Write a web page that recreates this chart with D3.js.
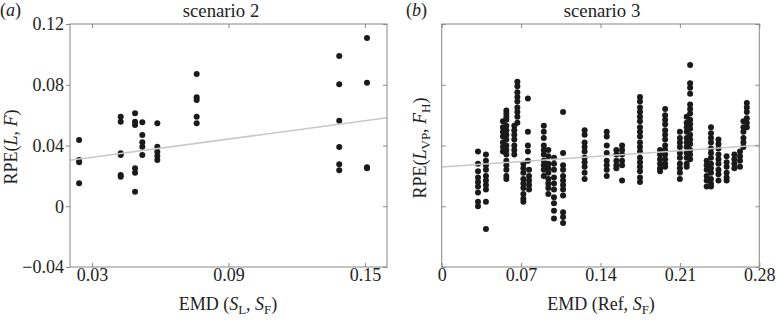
<!DOCTYPE html>
<html>
<head>
<meta charset="utf-8">
<script src="https://cdn.jsdelivr.net/npm/d3@7"></script>
<style>
  body { margin: 0; background: #fff; }
  svg text { font-family: "Liberation Serif", "DejaVu Serif", serif; fill: #222; }
</style>
</head>
<body>
<svg id="chart" width="777" height="320"></svg>
<script>
// scenario 2: one point per entry
const s2Emd = [
    0.0243, 0.0243, 0.0243, 0.0243,
    0.0426, 0.0426, 0.0426, 0.0426, 0.0426, 0.0426,
    0.0489, 0.0489, 0.0489, 0.0489, 0.0489, 0.0489,
    0.0521, 0.0521, 0.0521, 0.0521, 0.0521,
    0.0587, 0.0587, 0.0587, 0.0587, 0.0587,
    0.076, 0.076, 0.076, 0.076, 0.076,
    0.1387, 0.1387, 0.1387, 0.1387, 0.1387, 0.1387,
    0.1509, 0.1509, 0.1509, 0.1509
];
const s2Rpe = [
    0.0436, 0.0305, 0.029, 0.0151,
    0.059, 0.0557, 0.0349, 0.0338, 0.0206, 0.0195,
    0.0612, 0.0557, 0.0535, 0.025, 0.0221, 0.0096,
    0.0553, 0.0469, 0.0421, 0.0392, 0.0338,
    0.0546, 0.0392, 0.0359, 0.0331, 0.0305,
    0.0871, 0.0718, 0.070, 0.059, 0.0546,
    0.099, 0.0804, 0.0563, 0.039, 0.0277, 0.0237,
    0.1108, 0.0813, 0.0257, 0.025
];
const s2Fit = [[0.0203, 0.0303], [0.1597, 0.0582]];

// scenario 3: one column of points per EMD value
const s3Emd = [
    0.032, 0.039, 0.054, 0.057, 0.064, 0.0667, 0.072, 0.076, 0.077, 0.090,
    0.094, 0.099, 0.107, 0.126, 0.1455, 0.154, 0.159, 0.1748, 0.1925, 0.197,
    0.210, 0.216, 0.219, 0.2336, 0.2374, 0.244, 0.2512, 0.258, 0.263, 0.266,
    0.269
];
const s3Rpe = [
    [0.036, 0.028, 0.023, 0.019, 0.016, 0.013, 0.009, 0.003, 0.000],
    [0.034, 0.030, 0.027, 0.024, 0.020, 0.017, 0.014, 0.011, 0.003, -0.015],
    [0.056, 0.052, 0.049, 0.046, 0.042, 0.039, 0.036],
    [0.063, 0.061, 0.059, 0.057, 0.053, 0.050, 0.047, 0.044, 0.040, 0.037, 0.034, 0.030, 0.027, 0.024, 0.020, 0.018],
    [0.053, 0.050, 0.047, 0.044, 0.040, 0.037, 0.034],
    [0.082, 0.079, 0.075, 0.072, 0.069, 0.065, 0.062, 0.059, 0.055],
    [0.028, 0.025, 0.022, 0.018, 0.015, 0.012, 0.008, 0.005, 0.003],
    [0.071, 0.049, 0.040, 0.036, 0.030],
    [0.024, 0.020, 0.017, 0.014, 0.011],
    [0.053, 0.049, 0.045, 0.040, 0.037, 0.034, 0.030, 0.027, 0.024, 0.020],
    [0.037, 0.033, 0.028, 0.025, 0.022, 0.018, 0.015, 0.012, 0.008],
    [0.032, 0.028, 0.024, 0.019, 0.015, 0.011, 0.006, 0.002, -0.003, -0.008],
    [0.062, 0.035, 0.027, 0.024, 0.020, 0.017, 0.014, 0.011, 0.007, -0.004, -0.007, -0.011],
    [0.050, 0.047, 0.042, 0.039, 0.036, 0.032, 0.029, 0.026, 0.022, 0.018],
    [0.049, 0.046, 0.040, 0.035, 0.030, 0.027, 0.024, 0.020],
    [0.037, 0.034, 0.030, 0.027, 0.025],
    [0.040, 0.037, 0.034, 0.030, 0.027, 0.017],
    [0.072, 0.069, 0.065, 0.062, 0.059, 0.056, 0.052, 0.049, 0.046, 0.042, 0.039, 0.036, 0.032, 0.029, 0.026, 0.023, 0.019, 0.016],
    [0.037, 0.034, 0.031, 0.028, 0.025, 0.023],
    [0.064, 0.060, 0.057, 0.054, 0.050, 0.047, 0.044, 0.040, 0.037, 0.034, 0.031, 0.028, 0.026],
    [0.049, 0.045, 0.042, 0.039, 0.035, 0.032, 0.028, 0.025, 0.022, 0.018],
    [0.059, 0.055, 0.052, 0.049, 0.045, 0.042, 0.039, 0.035, 0.032, 0.028, 0.026],
    [0.093, 0.081, 0.078, 0.074, 0.067, 0.064, 0.061, 0.057, 0.054, 0.051, 0.047, 0.044, 0.041, 0.037, 0.034, 0.031],
    [0.030, 0.027, 0.024, 0.020, 0.017, 0.013],
    [0.052, 0.048, 0.045, 0.042, 0.038, 0.035, 0.032, 0.028, 0.025, 0.022, 0.018, 0.015, 0.013],
    [0.044, 0.041, 0.038, 0.034, 0.031, 0.028, 0.024, 0.021, 0.017],
    [0.033, 0.029, 0.026, 0.022, 0.019, 0.017],
    [0.034, 0.031, 0.028, 0.025],
    [0.036, 0.033, 0.030, 0.026],
    [0.056, 0.052, 0.049, 0.045, 0.042, 0.039],
    [0.068, 0.065, 0.062, 0.058, 0.055, 0.052]
];
const s3Fit = [[0, 0.0259], [0.28, 0.0402]];

const rpeTicks = [-0.04, 0, 0.04, 0.08, 0.12];
const s2EmdTicks = [0.03, 0.09, 0.15];
const s3EmdTicks = [0, 0.07, 0.14, 0.21, 0.28];

const svg = d3.select("#chart");
const fontSize = 18;

// writes text made of pieces: {t, it (italic), sub (subscript)}
function richText(el, parts) {
    let inSub = false;
    parts.forEach(p => {
        let ts = el.append("tspan").text(p.t);
        if (p.it) ts.attr("font-style", "italic");
        if (p.sub && !inSub) {
            ts.attr("font-size", fontSize * 0.72).attr("dy", 4);
            inSub = true;
        } else if (p.sub) {
            ts.attr("font-size", fontSize * 0.72);
        } else if (!p.sub && inSub) {
            ts.attr("dy", -4);
            inSub = false;
        }
    });
}

function panel(opts) {
    const x = d3.scaleLinear().domain(opts.xDomain).range([opts.left, opts.right]);
    const y = d3.scaleLinear().domain([-0.04, 0.12]).range([opts.bottom, opts.top]);
    const g = svg.append("g");

    // dots
    g.append("g").selectAll("circle")
        .data(opts.points)
        .enter()
        .append("circle")
        .attr("cx", d => x(d[0]))
        .attr("cy", d => y(d[1]))
        .attr("r", 3)
        .attr("fill", "#1a1a1a");

    // fit line
    g.append("line")
        .attr("x1", x(opts.fit[0][0])).attr("y1", y(opts.fit[0][1]))
        .attr("x2", x(opts.fit[1][0])).attr("y2", y(opts.fit[1][1]))
        .attr("stroke", "#c8c8c8")
        .attr("stroke-width", 1.5);

    // axes (ticks pointing inwards, mirrored on the opposite side)
    const axisStyle = a => a
        .call(a => a.select(".domain").remove())
        .call(a => a.selectAll("line").attr("stroke", "#888"))
        .call(a => a.selectAll("text")
            .attr("font-size", fontSize)
            .attr("font-family", "Liberation Serif")
            .attr("fill", "#222"));

    g.append("g")
        .attr("transform", `translate(0, ${opts.bottom})`)
        .call(d3.axisBottom(x).tickValues(opts.xTicks).tickSize(-4).tickPadding(1)
            .tickFormat(d => d === 0 ? "0" : d3.format(".2f")(d)))
        .call(axisStyle);
    g.append("g")
        .attr("transform", `translate(0, ${opts.top})`)
        .call(d3.axisTop(x).tickValues(opts.xTicks).tickSize(-4).tickFormat(""))
        .call(axisStyle);

    const yAx = d3.axisLeft(y).tickValues(rpeTicks);
    if (opts.yLabels) {
        yAx.tickSize(4).tickPadding(2)
            .tickFormat(d => d === 0 ? "0" : d3.format(".2f")(d).replace("-", "\u2212"));
    } else {
        yAx.tickSize(-4).tickFormat("");
    }
    g.append("g")
        .attr("transform", `translate(${opts.left}, 0)`)
        .call(yAx)
        .call(axisStyle);
    g.append("g")
        .attr("transform", `translate(${opts.right}, 0)`)
        .call(d3.axisRight(y).tickValues(rpeTicks).tickSize(-4).tickFormat(""))
        .call(axisStyle);

    // frame
    g.append("rect")
        .attr("x", opts.left).attr("y", opts.top)
        .attr("width", opts.right - opts.left)
        .attr("height", opts.bottom - opts.top)
        .attr("fill", "none")
        .attr("stroke", "#888")
        .attr("stroke-width", 1);

    // panel letter and title
    svg.append("text")
        .attr("x", opts.letterX).attr("y", 16)
        .attr("font-size", fontSize)
        .call(t => richText(t, [{t: "("}, {t: opts.letter, it: true}, {t: ")"}]));
    svg.append("text")
        .attr("x", opts.titleX).attr("y", 17)
        .attr("text-anchor", "middle")
        .attr("font-size", 18.8)
        .text(opts.title);

    // axis titles
    svg.append("text")
        .attr("x", opts.xTitleX).attr("y", 310)
        .attr("text-anchor", "middle")
        .attr("font-size", fontSize)
        .call(t => richText(t, opts.xTitle));
    svg.append("text")
        .attr("transform", `translate(${opts.yTitleX}, ${opts.yTitleY}) rotate(-90)`)
        .attr("text-anchor", "middle")
        .attr("font-size", fontSize)
        .call(t => richText(t, opts.yTitle));
}

panel({
    left: 70, right: 387, top: 24, bottom: 267,
    xDomain: [0.0203, 0.1597],
    xTicks: s2EmdTicks,
    yLabels: true,
    points: s2Emd.map((e, i) => [e, s2Rpe[i]]),
    fit: s2Fit,
    letter: "a", letterX: 0,
    title: "scenario 2", titleX: 221,
    xTitleX: 228,
    xTitle: [{t: "EMD ("}, {t: "S", it: true}, {t: "L", sub: true}, {t: ", "}, {t: "S", it: true}, {t: "F", sub: true}, {t: ")"}],
    yTitleX: 17, yTitleY: 147,
    yTitle: [{t: "RPE("}, {t: "L", it: true}, {t: ", "}, {t: "F", it: true}, {t: ")"}]
});

panel({
    left: 441.7, right: 759.3, top: 24, bottom: 267,
    xDomain: [0, 0.28],
    xTicks: s3EmdTicks,
    yLabels: false,
    points: s3Emd.flatMap((e, i) => s3Rpe[i].map(v => [e, v])),
    fit: s3Fit,
    letter: "b", letterX: 406,
    title: "scenario 3", titleX: 602,
    xTitleX: 601,
    xTitle: [{t: "EMD (Ref, "}, {t: "S", it: true}, {t: "F", sub: true}, {t: ")"}],
    yTitleX: 426, yTitleY: 148,
    yTitle: [{t: "RPE("}, {t: "L", it: true}, {t: "VP", sub: true}, {t: ", "}, {t: "F", it: true}, {t: "H", sub: true}, {t: ")"}]
});
</script>
</body>
</html>
